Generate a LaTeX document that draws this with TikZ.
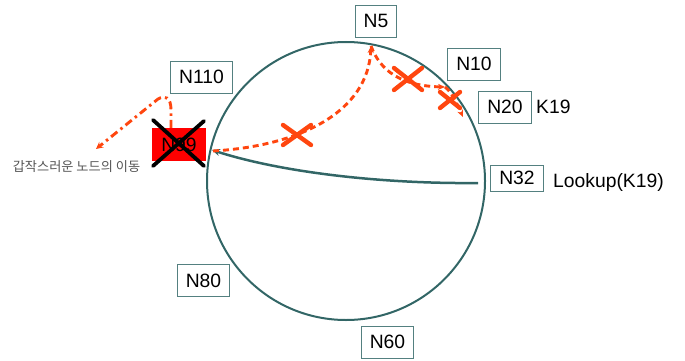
\documentclass[tikz,border=0pt]{standalone}
\usepackage{fontspec}
\setmainfont{Liberation Sans}
\newfontfamily\kor{Noto Sans CJK KR}
\usetikzlibrary{arrows.meta}
\definecolor{teal1}{RGB}{50,102,102}
\definecolor{boxb}{RGB}{84,128,128}
\definecolor{orng}{RGB}{255,70,15}
\definecolor{grayt}{RGB}{85,85,85}
\tikzset{
  nbox/.style={draw=boxb, line width=0.9pt, fill=white, inner xsep=8.5pt, inner ysep=0pt, minimum height=32pt, font=\fontsize{19.3}{22}\selectfont},
  lbl/.style={font=\fontsize{19.3}{22}\selectfont, inner sep=0pt},
  odash/.style={draw=orng, line width=2.9pt, dash pattern=on 6pt off 4pt, -{Stealth[length=7pt,width=6pt]}},
  odashdot/.style={draw=orng, line width=2.9pt, dash pattern=on 8pt off 4pt on 2.5pt off 4pt, -{Stealth[length=7pt,width=7pt]}},
  xmark/.style={draw=orng, line width=4.4pt, line cap=round},
  bmark/.style={draw=black, line width=3.8pt, line cap=round},
}
\begin{document}
\begin{tikzpicture}[x=1pt,y=-1pt]
\useasboundingbox (0,0) rectangle (685,361);
% ring
\draw[teal1, line width=2pt] (346,181) circle[radius=139];
% nodes
\node[nbox] (n5) at (376,21) {N5};
\node[nbox] (n10) at (474,64) {N10};
\node[nbox] (n20) at (505,107) {N20};
\node[lbl, anchor=west] (k19) at (536,107) {K19};
\node[nbox, minimum height=26pt] (n32) at (517,178) {N32};
\node[lbl, anchor=west] (lookup) at (553,183) {Lookup(K19)};
\node[nbox] (n110) at (201.5,77) {N110};
\node[nbox] (n80) at (203.5,280.5) {N80};
\node[nbox] (n60) at (387.5,342) {N60};
\node[draw=none, fill=red, minimum width=54pt, minimum height=33pt, inner sep=0pt, font=\fontsize{19.3}{22}\selectfont] (n99) at (179,144.5) {N99};
\node[text=grayt, font=\kor\fontsize{13.2}{14}\selectfont, inner sep=0pt] (moving) at (76.5,167) {갑작스러운 노드의 이동};
% coordinates on the ring
\coordinate (s99) at (213,151);
\coordinate (p5) at (371,46);
\coordinate (p10) at (445,87);
\coordinate (p20) at (463,117);
\coordinate (lk) at (478,183);
\coordinate (tip) at (212,150);
\coordinate (away) at (96,149);
% lookup arrow
\draw[teal1, line width=2.5pt, -{Stealth[length=8pt,width=7pt]}] (lk) .. controls (380,184) and (280,172) .. (tip);
% orange paths
\draw[odash] (s99) .. controls (300,146) and (368,112) .. (p5);
\draw[odash] (p5) .. controls (380,70) and (400,86) .. (p10);
\draw[odash] (p10) .. controls (452,92) and (458,106) .. (p20);
\draw[odashdot] (n99.north -| 171,0) -- (171,110) .. controls (171,97) and (165,95) .. (158,99) -- (away);
% X marks
\draw[xmark] (283,125) -- (311,145) (311,125) -- (283,145);
\draw[xmark] (394,68) -- (422,90) (422,68) -- (394,90);
\draw[xmark] (440,92) -- (460,108) (460,92) -- (440,108);
\draw[bmark] (153,120) -- (204,166) (204,121) -- (153,166);
\end{tikzpicture}
\end{document}
